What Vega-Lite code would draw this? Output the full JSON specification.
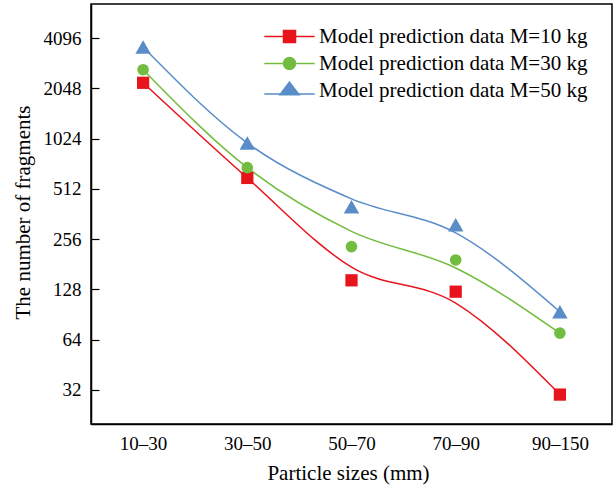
{
  "$schema": "https://vega.github.io/schema/vega-lite/v6.json",
  "autosize": "none",
  "width": 521,
  "height": 420,
  "padding": {"left": 91, "top": 4, "right": 2, "bottom": 65},
  "background": "white",
  "config": {
    "font": "Liberation Serif",
    "view": {"stroke": "black", "strokeWidth": 1.5},
    "axis": {"grid": false, "domainColor": "black", "domainWidth": 1.5, "tickColor": "black", "tickWidth": 1.2, "labelColor": "black", "titleColor": "black", "labelFontSize": 19, "titleFontSize": 21, "titleFontWeight": "normal", "labelFont": "Liberation Serif", "titleFont": "Liberation Serif"},
    "legend": {"labelFont": "Liberation Serif", "labelFontSize": 21, "labelColor": "black", "labelLimit": 0}
  },
  "datasets": {
    "points": [
      {"size": "10–30", "series": "Model prediction data M=10 kg", "n": 2210},
      {"size": "30–50", "series": "Model prediction data M=10 kg", "n": 595},
      {"size": "50–70", "series": "Model prediction data M=10 kg", "n": 145},
      {"size": "70–90", "series": "Model prediction data M=10 kg", "n": 124},
      {"size": "90–150", "series": "Model prediction data M=10 kg", "n": 30},
      {"size": "10–30", "series": "Model prediction data M=30 kg", "n": 2646},
      {"size": "30–50", "series": "Model prediction data M=30 kg", "n": 686},
      {"size": "50–70", "series": "Model prediction data M=30 kg", "n": 231},
      {"size": "70–90", "series": "Model prediction data M=30 kg", "n": 192},
      {"size": "90–150", "series": "Model prediction data M=30 kg", "n": 70},
      {"size": "10–30", "series": "Model prediction data M=50 kg", "n": 3620},
      {"size": "30–50", "series": "Model prediction data M=50 kg", "n": 964},
      {"size": "50–70", "series": "Model prediction data M=50 kg", "n": 400},
      {"size": "70–90", "series": "Model prediction data M=50 kg", "n": 312},
      {"size": "90–150", "series": "Model prediction data M=50 kg", "n": 94}
    ],
    "curves": [
      {"size": "10–30", "series": "Model prediction data M=10 kg", "n": 2210},
      {"size": "30–50", "series": "Model prediction data M=10 kg", "n": 595},
      {"size": "50–70", "series": "Model prediction data M=10 kg", "n": 174},
      {"size": "70–90", "series": "Model prediction data M=10 kg", "n": 106},
      {"size": "90–150", "series": "Model prediction data M=10 kg", "n": 30},
      {"size": "10–30", "series": "Model prediction data M=30 kg", "n": 2646},
      {"size": "30–50", "series": "Model prediction data M=30 kg", "n": 686},
      {"size": "50–70", "series": "Model prediction data M=30 kg", "n": 285},
      {"size": "70–90", "series": "Model prediction data M=30 kg", "n": 172},
      {"size": "90–150", "series": "Model prediction data M=30 kg", "n": 70},
      {"size": "10–30", "series": "Model prediction data M=50 kg", "n": 3620},
      {"size": "30–50", "series": "Model prediction data M=50 kg", "n": 964},
      {"size": "50–70", "series": "Model prediction data M=50 kg", "n": 446},
      {"size": "70–90", "series": "Model prediction data M=50 kg", "n": 279},
      {"size": "90–150", "series": "Model prediction data M=50 kg", "n": 94}
    ]
  },
  "encoding": {
    "x": {"field": "size", "type": "ordinal", "sort": ["10–30", "30–50", "50–70", "70–90", "90–150"], "scale": {"type": "point", "padding": 0.5},
      "axis": {"title": "Particle sizes (mm)", "labelAngle": 0, "ticks": false, "labelPadding": 10, "labelFont": "Liberation Serif", "titleFont": "Liberation Serif", "titleX": 257, "titleY": 49, "titleBaseline": "middle", "titleAlign": "center"}},
    "y": {"field": "n", "type": "quantitative", "scale": {"type": "log", "base": 2, "domain": [20, 6550], "nice": false, "zero": false},
      "axis": {"title": "The number of fragments", "values": [32, 64, 128, 256, 512, 1024, 2048, 4096], "format": "d", "tickSize": -8, "labelPadding": 18, "labelFont": "Liberation Serif", "titleFont": "Liberation Serif", "titleX": -68, "titleY": 208, "titleAngle": -90, "titleBaseline": "middle", "titleAlign": "center"}},
    "color": {"field": "series", "type": "nominal", "scale": {"domain": ["Model prediction data M=10 kg", "Model prediction data M=30 kg", "Model prediction data M=50 kg"], "range": ["#e8141c", "#72bd3f", "#5a8dc8"]},
      "legend": {"title": null, "orient": "none", "legendX": 188, "legendY": 22, "symbolSize": 144, "labelOffset": 19, "rowPadding": 5, "padding": 0, "labelLimit": 0,
        "encode": {"symbols": {"update": {
          "shape": {"signal": "indexof(datum.value, '10 kg') >= 0 ? 'M-4.2,0H4.2M-1,-1H1V1H-1Z' : indexof(datum.value, '30 kg') >= 0 ? 'M-4.2,0H4.2M-1,0A1,1,0,1,1,1,0A1,1,0,1,1,-1,0Z' : 'M-4.2,0.6H4.2M0,-1.4L1.6,0.7H-1.6Z'"},
          "fill": {"scale": "color", "field": "value"},
          "stroke": {"scale": "color", "field": "value"},
          "strokeWidth": {"value": 1.5},
          "opacity": {"value": 1},
          "fillOpacity": {"value": 1}
        }}}}}
  },
  "layer": [
    {"data": {"name": "curves"}, "mark": {"type": "line", "interpolate": "monotone", "strokeWidth": 1.5}},
    {"data": {"name": "points"}, "transform": [{"filter": "indexof(datum.series, '10 kg') >= 0"}],
      "mark": {"type": "point", "filled": true, "opacity": 1, "shape": "square", "size": 150}},
    {"data": {"name": "points"}, "transform": [{"filter": "indexof(datum.series, '30 kg') >= 0"}],
      "mark": {"type": "point", "filled": true, "opacity": 1, "shape": "circle", "size": 135}},
    {"data": {"name": "points"}, "transform": [{"filter": "indexof(datum.series, '50 kg') >= 0"}],
      "mark": {"type": "point", "filled": true, "opacity": 1, "shape": "triangle-up", "size": 240}}
  ]
}
